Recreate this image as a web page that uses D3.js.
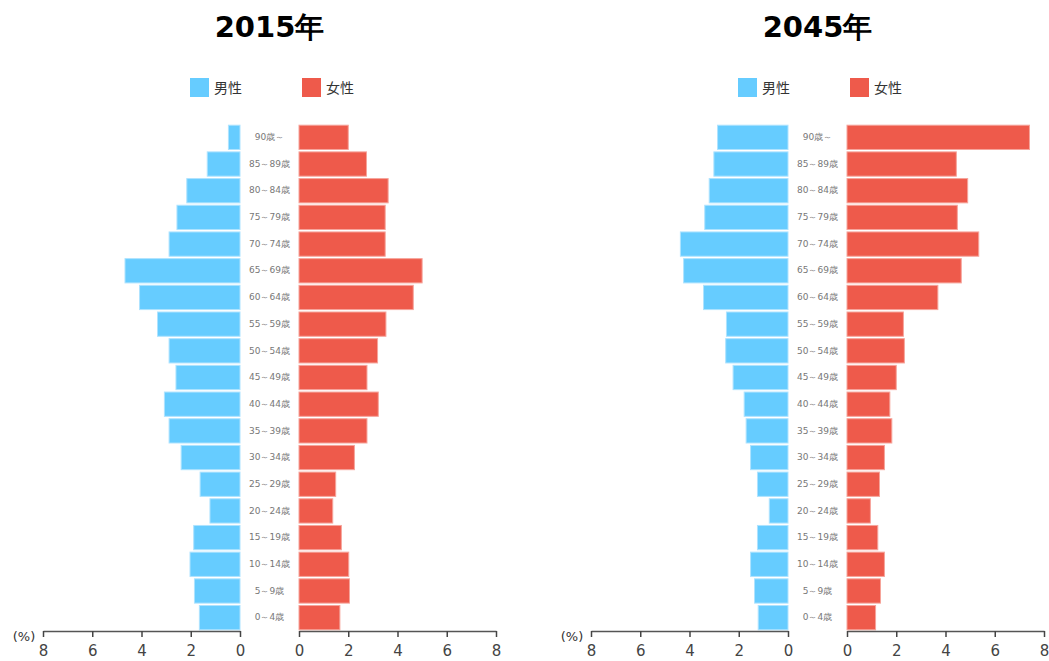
<!DOCTYPE html>
<html>
<head>
<meta charset="utf-8">
<script src="https://cdn.jsdelivr.net/npm/d3@7"></script>
<style>
  body { margin: 0; background: #fff; }
  text { font-family: "DejaVu Sans", Verdana, sans-serif; }
</style>
</head>
<body>
<script>
// age groups, top of the pyramid first
const ages = ["90歳～", "85～89歳", "80～84歳", "75～79歳", "70～74歳", "65～69歳", "60～64歳",
  "55～59歳", "50～54歳", "45～49歳", "40～44歳", "35～39歳", "30～34歳", "25～29歳",
  "20～24歳", "15～19歳", "10～14歳", "5～9歳", "0～4歳"];

// share of population (%)
const male2015 = [0.47, 1.33, 2.16, 2.56, 2.88, 4.67, 4.08, 3.35, 2.88, 2.6, 3.07, 2.88, 2.39, 1.62, 1.22, 1.88, 2.03, 1.85, 1.65];
const female2015 = [2.0, 2.74, 3.62, 3.5, 3.5, 5.0, 4.64, 3.53, 3.19, 2.76, 3.22, 2.76, 2.25, 1.49, 1.37, 1.72, 2.02, 2.05, 1.66];
const male2045 = [2.86, 3.01, 3.2, 3.38, 4.37, 4.24, 3.43, 2.5, 2.53, 2.23, 1.78, 1.70, 1.52, 1.24, 0.76, 1.24, 1.52, 1.36, 1.21];
const female2045 = [7.41, 4.44, 4.9, 4.48, 5.35, 4.64, 3.69, 2.29, 2.33, 2.0, 1.74, 1.82, 1.52, 1.32, 0.95, 1.25, 1.52, 1.36, 1.16];

const titles = ["2015年", "2045年"];
const sexLabels = ["男性", "女性"];
const xTicks = [0, 2, 4, 6, 8];

const canvWidth = 1049, canvHeight = 661;
const maleColor = "#66ccff", femaleColor = "#ee5a4b";

const svg = d3.select("body").append("svg")
  .attr("width", canvWidth)
  .attr("height", canvHeight);

const y = d3.scaleBand().domain(ages).range([124, 631]).paddingInner(0.09).paddingOuter(0.045);

drawPyramid(0, titles[0], male2015, female2015);
drawPyramid(548, titles[1], male2045, female2045);

function drawPyramid(offX, title, male, female) {
  const g = svg.append("g").attr("transform", "translate(" + offX + ",0)");
  const xMale = d3.scaleLinear().domain([0, 8]).range([240, 43]);
  const xFemale = d3.scaleLinear().domain([0, 8]).range([299, 496]);
  const mid = (240 + 299) / 2;

  // title
  g.append("text").text(title)
    .attr("x", mid).attr("y", 37)
    .attr("text-anchor", "middle")
    .style("font-size", "29px").style("font-weight", "bold").style("fill", "#000");

  // legend
  const legend = [{ x: 190, c: maleColor, t: sexLabels[0] }, { x: 302, c: femaleColor, t: sexLabels[1] }];
  legend.forEach(function (d) {
    g.append("rect").attr("x", d.x).attr("y", 78).attr("width", 19).attr("height", 19).attr("fill", d.c);
    g.append("text").text(d.t).attr("x", d.x + 24).attr("y", 88).attr("dy", "0.35em")
      .style("font-family", "'Noto Sans CJK JP', sans-serif").style("font-size", "14px").style("fill", "#333");
  });

  // bars
  g.selectAll(".m").data(male).enter().append("rect")
    .attr("x", d => xMale(d)).attr("y", (d, i) => y(ages[i]))
    .attr("width", d => xMale(0) - xMale(d)).attr("height", y.bandwidth())
    .attr("fill", maleColor).attr("stroke", "#aee3ff").attr("stroke-width", 1);

  g.selectAll(".f").data(female).enter().append("rect")
    .attr("x", xFemale(0)).attr("y", (d, i) => y(ages[i]))
    .attr("width", d => xFemale(d) - xFemale(0)).attr("height", y.bandwidth())
    .attr("fill", femaleColor).attr("stroke", "#f6a49b").attr("stroke-width", 1);

  // age labels
  g.selectAll(".age").data(ages).enter().append("text").text(d => d)
    .attr("x", mid).attr("y", d => y(d) + y.bandwidth() / 2).attr("dy", "0.3em")
    .attr("text-anchor", "middle")
    .style("font-size", "9px").style("fill", "#777");

  // axes
  [xMale, xFemale].forEach(function (sc) {
    const ax = g.append("g").attr("transform", "translate(0,631)")
      .call(d3.axisBottom(sc).tickValues(xTicks).tickSize(6).tickSizeOuter(0).tickPadding(8));
    ax.select(".domain").attr("stroke", "#555").attr("stroke-width", 1.5);
    ax.selectAll(".tick line").attr("stroke", "#444").attr("stroke-width", 1.5);
    ax.selectAll(".tick text").style("font-size", "15px").style("fill", "#444")
      .style("font-family", "'DejaVu Sans', Verdana, sans-serif");
  });

  g.append("text").text("(%)")
    .attr("x", 24).attr("y", 636).attr("dy", "0.35em").attr("text-anchor", "middle")
    .style("font-size", "13px").style("fill", "#333");
}
</script>
</body>
</html>
